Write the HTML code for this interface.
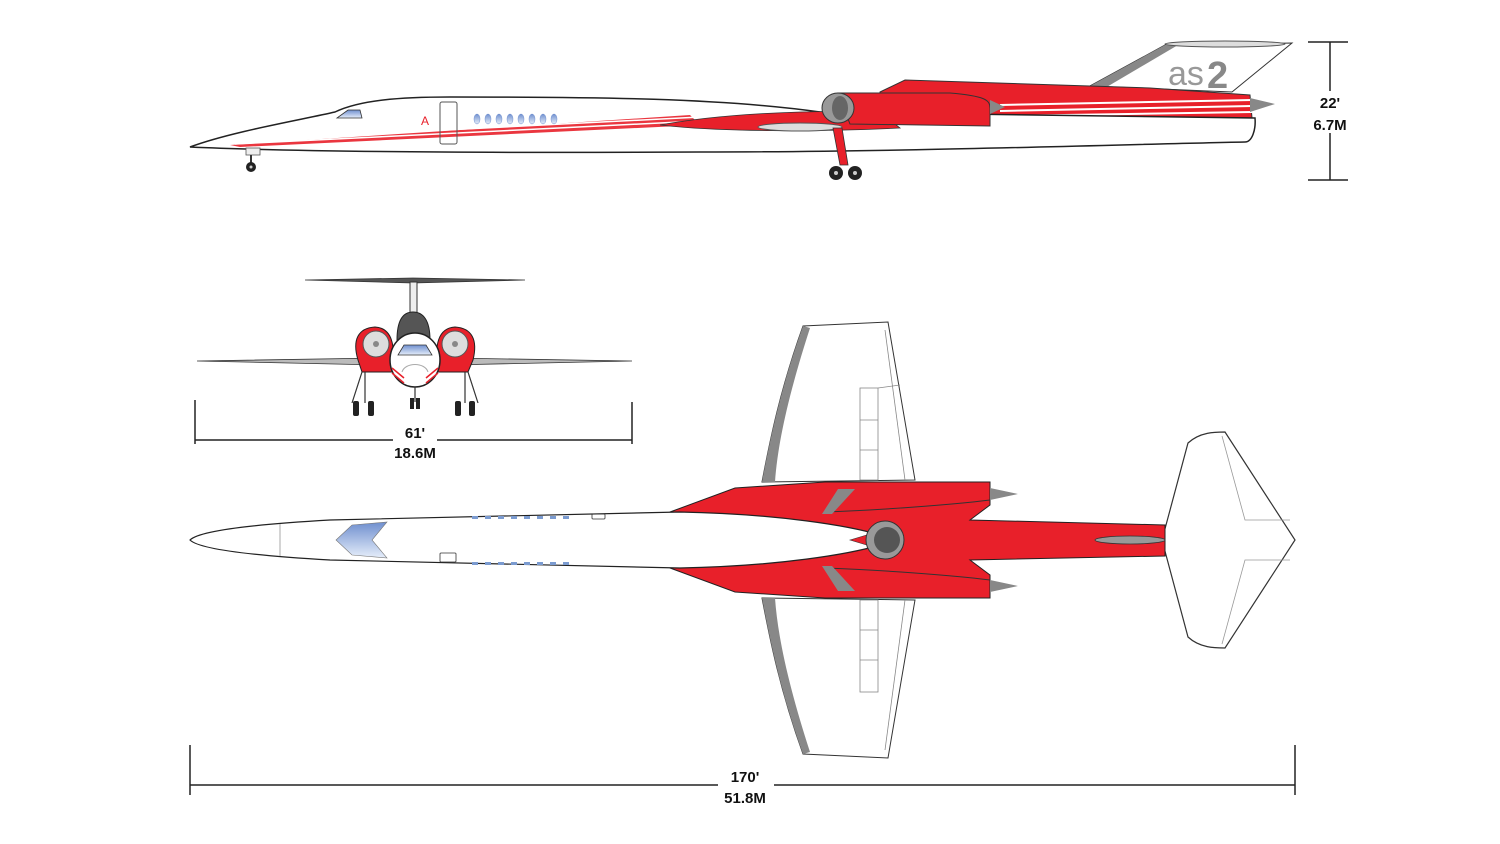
<!DOCTYPE html>
<html><head><meta charset="utf-8"><style>
html,body{margin:0;padding:0;background:#fff;}
svg{display:block}
text{font-family:"Liberation Sans",sans-serif;font-weight:bold;fill:#111;}
</style></head><body>
<svg width="1500" height="844" viewBox="0 0 1500 844" xmlns="http://www.w3.org/2000/svg">
<defs>
<linearGradient id="win" x1="0" y1="0" x2="0" y2="1"><stop offset="0" stop-color="#6f8fcf"/><stop offset="1" stop-color="#e6eefa"/></linearGradient>
</defs>

<!-- ===== SIDE VIEW ===== -->
<polygon points="1090,86 1165,45 1292,43 1232,92" fill="#fff" stroke="#333" stroke-width="1"/>
<polygon points="1090,86 1165,45 1178,45 1105,88" fill="#888"/>
<ellipse cx="1225" cy="44" rx="60" ry="3" fill="#ddd" stroke="#555" stroke-width="1"/>
<text x="1168" y="85" style="font-weight:normal;fill:#999;font-size:34px">as</text>
<text x="1207" y="88" style="fill:#888;font-size:38px">2</text>
<polygon points="880,92 905,80 1150,88 1250,95 1252,118 1000,118 880,110" fill="#e8202a" stroke="#333" stroke-width="1"/>
<line x1="1000" y1="105" x2="1252" y2="100" stroke="#fff" stroke-width="2"/>
<line x1="1000" y1="111" x2="1252" y2="106" stroke="#fff" stroke-width="2"/>
<line x1="1000" y1="116" x2="1252" y2="112" stroke="#fff" stroke-width="2"/>
<polygon points="1250,98 1275,104 1250,112" fill="#888"/>
<path d="M190,147 C230,132 300,120 335,112 C360,100 400,97 450,97 C600,97 720,98 820,112 L1255,118 C1256,130 1252,142 1245,142 C1100,145 900,152 700,152 C500,153 300,152 190,147 Z" fill="#fff" stroke="#222" stroke-width="1.5"/>
<polygon points="230,145 690,115 700,125 240,147" fill="#e8202a" opacity="0.9"/>
<line x1="230" y1="141" x2="700" y2="117" stroke="#fff" stroke-width="1.5"/>
<line x1="235" y1="144" x2="700" y2="121" stroke="#fff" stroke-width="1.5"/>
<path d="M660,125 C720,114 800,110 880,112 L900,128 C820,132 720,132 660,125 Z" fill="#e8202a" stroke="#333" stroke-width="0.8"/>
<ellipse cx="800" cy="127" rx="42" ry="4" fill="#ddd" stroke="#555"/>
<path d="M838,93 L950,93 C985,96 990,100 990,108 L990,126 L850,124 Z" fill="#e8202a" stroke="#333" stroke-width="1"/>
<polygon points="990,100 1005,107 990,114" fill="#888"/>
<ellipse cx="838" cy="108" rx="16" ry="15" fill="#999" stroke="#333"/>
<ellipse cx="840" cy="108" rx="8" ry="12" fill="#666"/>
<path d="M337,118 L348,110 L360,110 L362,118 Z" fill="url(#win)" stroke="#333" stroke-width="0.8"/>
<text x="421" y="125" style="fill:#e8202a;font-size:12px;font-weight:normal">A</text>
<rect x="440" y="102" width="17" height="42" rx="2" fill="none" stroke="#555" stroke-width="1"/>
<g fill="url(#win)" stroke="#6f8fcf" stroke-width="0.5">
<ellipse cx="477" cy="119" rx="3" ry="5"/><ellipse cx="488" cy="119" rx="3" ry="5"/><ellipse cx="499" cy="119" rx="3" ry="5"/><ellipse cx="510" cy="119" rx="3" ry="5"/><ellipse cx="521" cy="119" rx="3" ry="5"/><ellipse cx="532" cy="119" rx="3" ry="5"/><ellipse cx="543" cy="119" rx="3" ry="5"/><ellipse cx="554" cy="119" rx="3" ry="5"/></g>
<rect x="246" y="148" width="14" height="7" fill="#eee" stroke="#555" stroke-width="0.8"/>
<line x1="251" y1="155" x2="251" y2="163" stroke="#333" stroke-width="2"/>
<circle cx="251" cy="167" r="5" fill="#222"/><circle cx="251" cy="167" r="1.5" fill="#ccc"/>
<polygon points="833,128 842,128 848,165 840,165" fill="#e8202a" stroke="#333" stroke-width="0.8"/>
<circle cx="836" cy="173" r="7" fill="#222"/><circle cx="836" cy="173" r="2" fill="#ccc"/>
<circle cx="855" cy="173" r="7" fill="#222"/><circle cx="855" cy="173" r="2" fill="#ccc"/>
<g stroke="#222" stroke-width="1.5"><line x1="1330" y1="42" x2="1330" y2="180"/><line x1="1308" y1="42" x2="1348" y2="42"/><line x1="1308" y1="180" x2="1348" y2="180"/></g>
<rect x="1312" y="91" width="38" height="42" fill="#fff"/>
<text x="1330" y="108" text-anchor="middle" font-size="15">22'</text>
<text x="1330" y="130" text-anchor="middle" font-size="15">6.7M</text>

<!-- ===== FRONT VIEW ===== -->
<path d="M305,280 L413,278 L525,280 L413,283 Z" fill="#555" stroke="#333" stroke-width="0.8"/>
<rect x="410" y="282" width="7" height="36" fill="#eee" stroke="#333"/>
<path d="M397,340 C397,320 403,312 413,312 C423,312 430,320 430,340 Z" fill="#555" stroke="#222"/>
<path d="M197,361 L380,358 L450,358 L632,361 L450,365 L380,365 Z" fill="#bbb" stroke="#333" stroke-width="0.8"/>
<path d="M358,360 C352,340 358,328 375,327 C392,328 396,345 392,372 L362,372 Z" fill="#e8202a" stroke="#222"/>
<circle cx="376" cy="344" r="13" fill="#ddd" stroke="#555"/><circle cx="376" cy="344" r="3" fill="#888"/>
<path d="M473,360 C478,340 472,328 455,327 C438,328 434,345 438,372 L468,372 Z" fill="#e8202a" stroke="#222"/>
<circle cx="455" cy="344" r="13" fill="#ddd" stroke="#555"/><circle cx="455" cy="344" r="3" fill="#888"/>
<ellipse cx="415" cy="360" rx="25" ry="27" fill="#fff" stroke="#222" stroke-width="1.5"/>
<path d="M398,355 L404,345 L426,345 L432,355 Z" fill="url(#win)" stroke="#333" stroke-width="0.8"/>
<path d="M402,372 C405,362 425,362 428,372" fill="none" stroke="#aaa"/>
<g stroke="#e8202a" stroke-width="1.5"><line x1="392" y1="368" x2="404" y2="378"/><line x1="392" y1="373" x2="404" y2="383"/><line x1="438" y1="368" x2="426" y2="378"/><line x1="438" y1="373" x2="426" y2="383"/></g>
<g stroke="#333" stroke-width="1.2"><line x1="362" y1="372" x2="352" y2="403"/><line x1="365" y1="372" x2="365" y2="403"/><line x1="468" y1="372" x2="478" y2="403"/><line x1="465" y1="372" x2="465" y2="403"/><line x1="415" y1="387" x2="415" y2="402"/></g>
<g fill="#222"><rect x="353" y="401" width="6" height="15" rx="2"/><rect x="368" y="401" width="6" height="15" rx="2"/><rect x="455" y="401" width="6" height="15" rx="2"/><rect x="469" y="401" width="6" height="15" rx="2"/><rect x="410" y="398" width="4" height="11"/><rect x="416" y="398" width="4" height="11"/></g>
<g stroke="#222" stroke-width="1.5"><line x1="195" y1="440" x2="632" y2="440"/><line x1="195" y1="400" x2="195" y2="444"/><line x1="632" y1="402" x2="632" y2="444"/></g>
<rect x="393" y="420" width="44" height="42" fill="#fff"/>
<text x="415" y="438" text-anchor="middle" font-size="15">61'</text>
<text x="415" y="458" text-anchor="middle" font-size="15">18.6M</text>

<!-- ===== TOP VIEW ===== -->
<path d="M762,482 C770,440 780,390 803,326 L888,322 L915,480 Z" fill="#fff" stroke="#333" stroke-width="1"/>
<path d="M762,482 C770,440 780,390 803,326 L810,328 C790,390 778,440 775,482 Z" fill="#888"/>
<path d="M762,598 C770,640 780,690 803,754 L888,758 L915,600 Z" fill="#fff" stroke="#333" stroke-width="1"/>
<path d="M762,598 C770,640 780,690 803,754 L810,752 C790,690 778,640 775,598 Z" fill="#888"/>
<g stroke="#888" stroke-width="0.8" fill="none">
<rect x="860" y="388" width="18" height="92"/><line x1="860" y1="420" x2="878" y2="420"/><line x1="860" y1="450" x2="878" y2="450"/><line x1="878" y1="388" x2="900" y2="385"/><line x1="885" y1="330" x2="905" y2="480"/>
<rect x="860" y="600" width="18" height="92"/><line x1="860" y1="630" x2="878" y2="630"/><line x1="860" y1="660" x2="878" y2="660"/><line x1="885" y1="750" x2="905" y2="600"/></g>
<path d="M1188,443 C1200,432 1215,432 1225,432 L1295,540 L1225,648 C1215,648 1200,648 1188,637 L1162,540 Z" fill="#fff" stroke="#333" stroke-width="1.2"/>
<g stroke="#999" stroke-width="0.8" fill="none"><polyline points="1222,436 1245,520 1290,520"/><polyline points="1222,644 1245,560 1290,560"/></g>
<path d="M670,512 L735,488 L825,482 L990,482 L990,505 L970,520 L1165,525 L1165,556 L970,560 L990,575 L990,598 L825,598 L735,592 L670,568 Z" fill="#e8202a" stroke="#222" stroke-width="1"/>
<path d="M825,512 C880,510 950,505 990,500" fill="none" stroke="#333"/>
<path d="M825,568 C880,570 950,575 990,580" fill="none" stroke="#333"/>
<polygon points="838,489 855,489 832,514 822,514" fill="#888"/>
<polygon points="838,591 855,591 832,566 822,566" fill="#888"/>
<polygon points="990,488 1018,494 990,500" fill="#888"/>
<polygon points="990,580 1018,586 990,592" fill="#888"/>
<ellipse cx="1130" cy="540" rx="35" ry="4" fill="#999" stroke="#333" stroke-width="0.8"/>
<path d="M190,540 C200,530 260,524 330,520 L680,512 C780,514 850,526 880,535 L880,545 C850,554 780,566 680,568 L330,560 C260,556 200,550 190,540 Z" fill="#fff" stroke="#222" stroke-width="1.2"/>
<line x1="280" y1="524" x2="280" y2="556" stroke="#aaa"/>
<path d="M336,540 L352,525 L387,522 L372,540 L387,558 L352,555 Z" fill="url(#win)" stroke="#777" stroke-width="0.6"/>
<g fill="#7b9bd0"><rect x="472" y="516" width="6" height="3"/><rect x="485" y="516" width="6" height="3"/><rect x="498" y="516" width="6" height="3"/><rect x="511" y="516" width="6" height="3"/><rect x="524" y="516" width="6" height="3"/><rect x="537" y="516" width="6" height="3"/><rect x="550" y="516" width="6" height="3"/><rect x="563" y="516" width="6" height="3"/>
<rect x="472" y="562" width="6" height="3"/><rect x="485" y="562" width="6" height="3"/><rect x="498" y="562" width="6" height="3"/><rect x="511" y="562" width="6" height="3"/><rect x="524" y="562" width="6" height="3"/><rect x="537" y="562" width="6" height="3"/><rect x="550" y="562" width="6" height="3"/><rect x="563" y="562" width="6" height="3"/></g>
<rect x="592" y="514" width="13" height="5" rx="1" fill="none" stroke="#333" stroke-width="0.8"/>
<rect x="440" y="553" width="16" height="9" rx="1" fill="none" stroke="#333" stroke-width="0.8"/>
<polygon points="850,540 870,534 870,546" fill="#e8202a" stroke="#333" stroke-width="0.6"/>
<circle cx="885" cy="540" r="19" fill="#999" stroke="#333"/>
<circle cx="887" cy="540" r="13" fill="#555"/>
<g stroke="#222" stroke-width="1.5"><line x1="190" y1="785" x2="1295" y2="785"/><line x1="190" y1="745" x2="190" y2="795"/><line x1="1295" y1="745" x2="1295" y2="795"/></g>
<rect x="718" y="765" width="56" height="42" fill="#fff"/>
<text x="745" y="782" text-anchor="middle" font-size="15">170'</text>
<text x="745" y="803" text-anchor="middle" font-size="15">51.8M</text>
</svg>
</body></html>
